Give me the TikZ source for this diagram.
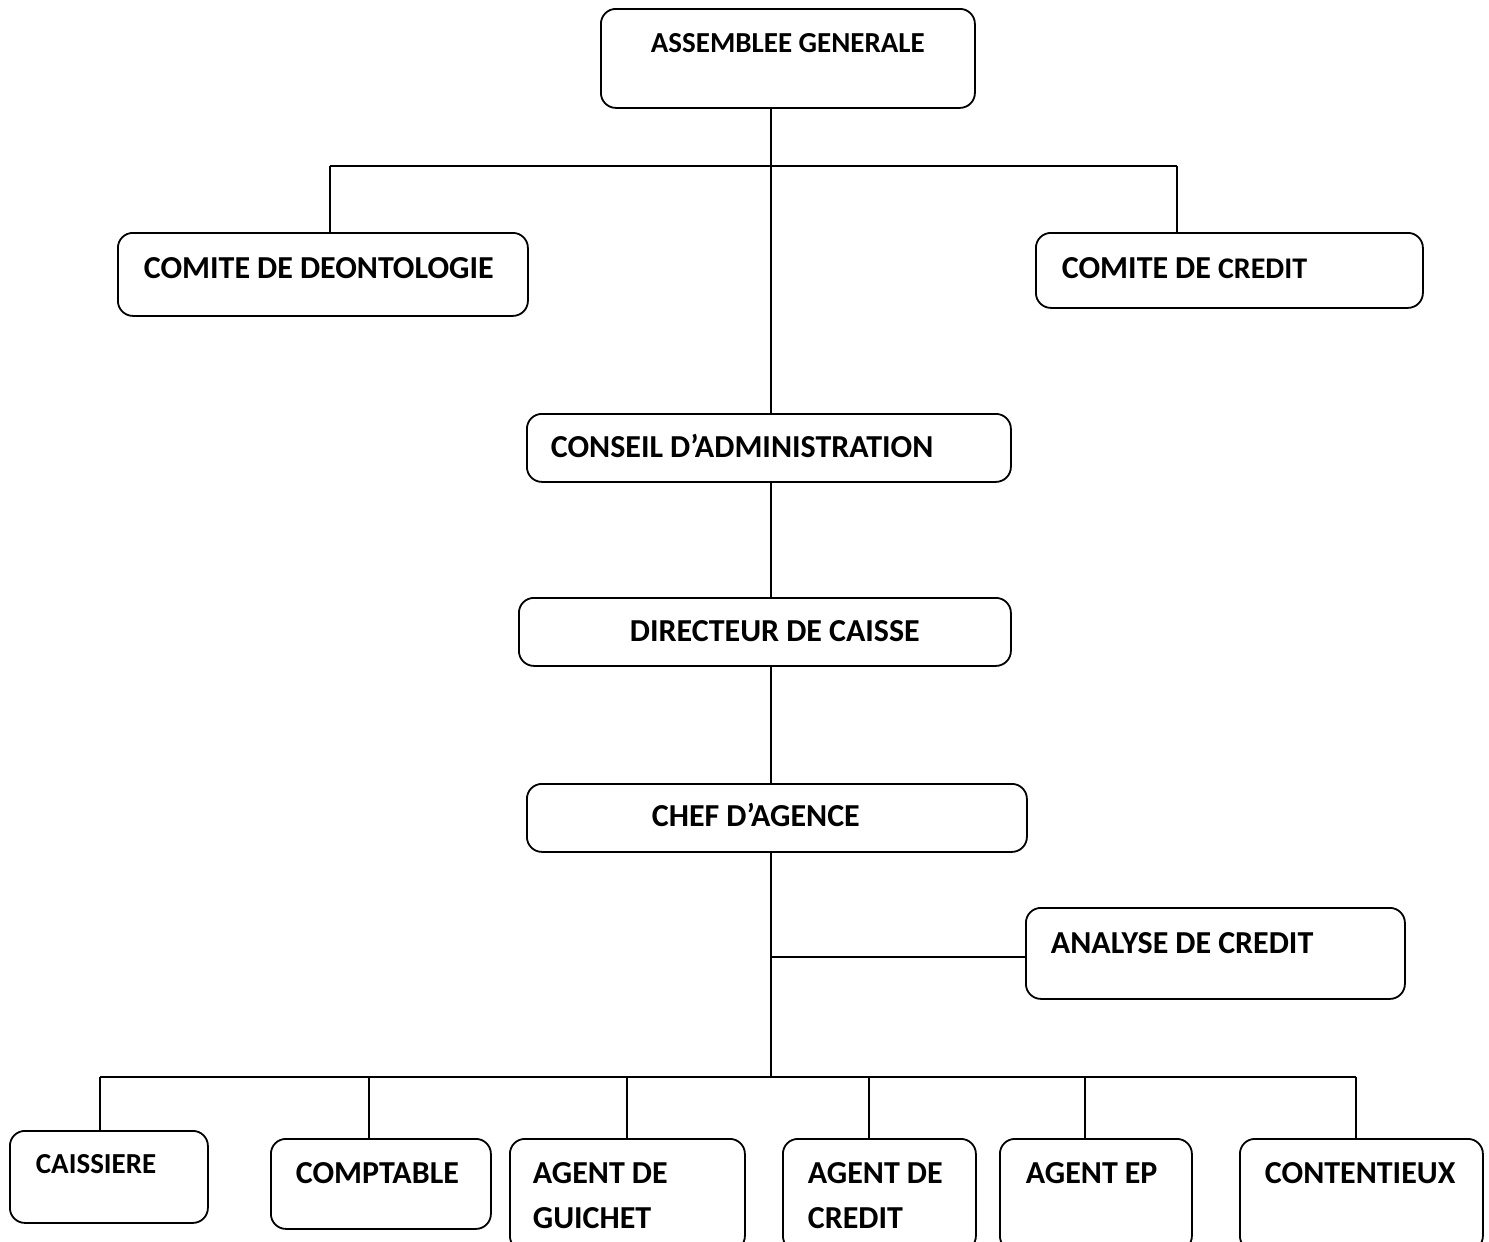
\documentclass[tikz,border=0pt]{standalone}
\usepackage{fontspec}
\setmainfont{Carlito}
\newcommand\bigf{\fontsize{32}{45}\selectfont\bfseries}
\newcommand\smallf{\fontsize{29}{40}\selectfont\bfseries}
\newcommand\tightsp{\spaceskip=0.22em\relax\xspaceskip=0.22em\relax}
\begin{document}
\begin{tikzpicture}[x=1pt,y=-1pt,
  orgbox/.style={draw, line width=1.8pt, rounded corners=15pt, anchor=north west,
    inner sep=0pt, align=left, font=\bigf, execute at begin node=\tightsp},
  link/.style={line width=1.8pt}]
\clip (0,0) rectangle (1489,1242);
\fill[white] (0,0) rectangle (1489,1242);
% boxes
\node[orgbox, font=\smallf, text width=374pt, text height=44pt, text depth=55pt] (ag) at (600,8) {\hspace*{50pt}ASSEMBLEE GENERALE};
\node[orgbox, text width=410pt, text height=46pt, text depth=37pt] (deon) at (117,232) {\hspace*{26pt}COMITE DE DEONTOLOGIE};
\node[orgbox, text width=387pt, text height=46pt, text depth=29pt] (cred) at (1035,232) {\hspace*{26pt}COMITE DE {\fontsize{30}{40}\selectfont\tightsp CREDIT}};
\node[orgbox, text width=484pt, text height=44pt, text depth=24pt] (conseil) at (526,413) {\hspace*{24pt}CONSEIL D’ADMINISTRATION};
\node[orgbox, text width=492pt, text height=44pt, text depth=24pt] (dir) at (518,597) {\hspace*{111pt}DIRECTEUR DE CAISSE};
\node[orgbox, text width=500pt, text height=43pt, text depth=25pt] (chef) at (526,783) {\hspace*{125pt}CHEF D’AGENCE};
\node[orgbox, text width=379pt, text height=46pt, text depth=45pt] (analyse) at (1025,907) {\hspace*{25pt}ANALYSE DE CREDIT};
\node[orgbox, font=\smallf, text width=198pt, text height=43pt, text depth=49pt] (caiss) at (9,1130) {\hspace*{26pt}CAISSIERE};
\node[orgbox, text width=220pt, text height=45pt, text depth=45pt] (compt) at (270,1138) {\hspace*{25pt}COMPTABLE};
\node[orgbox, text width=235pt, text height=45pt, text depth=67pt] (guichet) at (509,1138) {\hspace*{23pt}AGENT DE\\\hspace*{23pt}GUICHET};
\node[orgbox, text width=193pt, text height=45pt, text depth=67pt] (agcred) at (782,1138) {\hspace*{25pt}AGENT DE\\\hspace*{25pt}CREDIT};
\node[orgbox, text width=192pt, text height=45pt, text depth=67pt] (ep) at (999,1138) {\hspace*{26pt}AGENT EP};
\node[orgbox, text width=243pt, text height=45pt, text depth=67pt] (cont) at (1239,1138) {\hspace*{25pt}CONTENTIEUX};
% junctions
\coordinate (jtop) at (771,166);
\coordinate (jl) at (330,166);
\coordinate (jr) at (1177,166);
\coordinate (ja) at (771,957);
\coordinate (bus) at (771,1077);
\coordinate (b1) at (100,1077);
\coordinate (b2) at (369,1077);
\coordinate (b3) at (627,1077);
\coordinate (b4) at (869,1077);
\coordinate (b5) at (1085,1077);
\coordinate (b6) at (1356,1077);
% connectors
\draw[link] (ag.south -| jtop) -- (conseil.north -| jtop);
\draw[link] (jl) -- (jr);
\draw[link] (jl) -- (deon.north -| jl);
\draw[link] (jr) -- (cred.north -| jr);
\draw[link] (conseil.south -| jtop) -- (dir.north -| jtop);
\draw[link] (dir.south -| jtop) -- (chef.north -| jtop);
\draw[link] (chef.south -| bus) -- (bus);
\draw[link] (ja) -- (analyse.west |- ja);
\draw[link] (b1) -- (b6);
\draw[link] (b1) -- (caiss.north -| b1);
\draw[link] (b2) -- (compt.north -| b2);
\draw[link] (b3) -- (guichet.north -| b3);
\draw[link] (b4) -- (agcred.north -| b4);
\draw[link] (b5) -- (ep.north -| b5);
\draw[link] (b6) -- (cont.north -| b6);
\end{tikzpicture}
\end{document}
